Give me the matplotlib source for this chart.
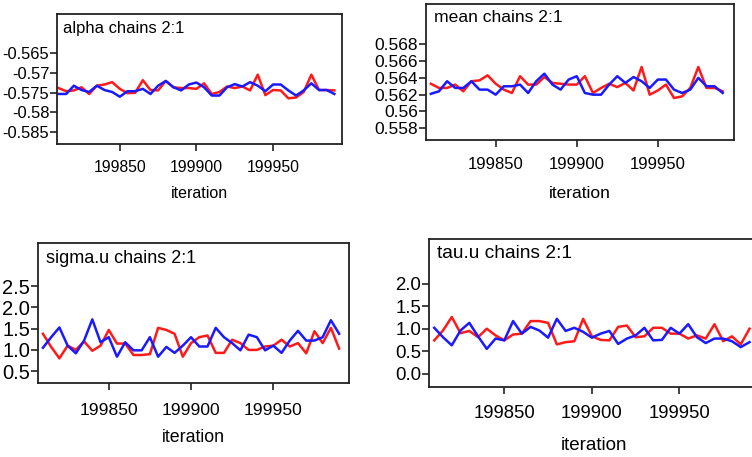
import matplotlib.pyplot as plt
import numpy as np

plt.rcParams['font.family'] = ['Liberation Sans', 'DejaVu Sans']

# thinned iterations shown in each history plot
iterations = np.arange(199810, 199991, 5)
x_ticks = [199850, 199900, 199950]

alpha_chain2 = [-0.5738, -0.5746, -0.5744, -0.5736, -0.5753, -0.5732, -0.5729, -0.5723, -0.5740,
                -0.5751, -0.5750, -0.5718, -0.5743, -0.5744, -0.5720, -0.5736, -0.5738, -0.5738,
                -0.5740, -0.5726, -0.5753, -0.5748, -0.5734, -0.5738, -0.5734, -0.5744, -0.5704,
                -0.5756, -0.5743, -0.5744, -0.5764, -0.5762, -0.5748, -0.5704, -0.5743, -0.5743,
                -0.5744]
alpha_chain1 = [-0.5753, -0.5753, -0.5732, -0.5743, -0.5748, -0.5732, -0.5743, -0.5748, -0.5760,
                -0.5746, -0.5746, -0.5740, -0.5753, -0.5732, -0.5720, -0.5736, -0.5744, -0.5729,
                -0.5724, -0.5736, -0.5757, -0.5757, -0.5736, -0.5728, -0.5734, -0.5723, -0.5732,
                -0.5746, -0.5729, -0.5729, -0.5744, -0.5757, -0.5744, -0.5726, -0.5743, -0.5743,
                -0.5753]

mean_chain2 = [0.5633, 0.5628, 0.5628, 0.5632, 0.5624, 0.5636, 0.5637, 0.5643, 0.5633, 0.5626,
               0.5622, 0.5642, 0.5632, 0.5632, 0.5641, 0.5634, 0.5633, 0.5632, 0.5632, 0.5642,
               0.5622, 0.5628, 0.5633, 0.5629, 0.5634, 0.5625, 0.5653, 0.5620, 0.5625, 0.5632,
               0.5616, 0.5618, 0.5628, 0.5653, 0.5628, 0.5628, 0.5624]
mean_chain1 = [0.5621, 0.5624, 0.5636, 0.5628, 0.5628, 0.5636, 0.5626, 0.5626, 0.5620, 0.5630,
               0.5630, 0.5632, 0.5622, 0.5636, 0.5645, 0.5632, 0.5626, 0.5638, 0.5642, 0.5622,
               0.5620, 0.5620, 0.5632, 0.5642, 0.5634, 0.5641, 0.5636, 0.5628, 0.5638, 0.5638,
               0.5626, 0.5622, 0.5626, 0.5640, 0.5630, 0.5630, 0.5622]

sigma_chain2 = [1.38, 1.07, 0.80, 1.10, 1.00, 1.20, 0.98, 1.10, 1.47, 1.15, 1.15, 0.88, 0.88,
                0.90, 1.52, 1.47, 1.38, 0.84, 1.16, 1.30, 1.34, 0.93, 0.93, 1.24, 1.16, 1.00,
                1.00, 1.08, 1.10, 1.24, 1.08, 1.16, 0.92, 1.44, 1.16, 1.52, 1.03]
sigma_chain1 = [1.05, 1.30, 1.53, 1.10, 0.92, 1.22, 1.72, 1.18, 1.30, 0.84, 1.18, 0.99, 0.99,
                1.30, 0.84, 1.07, 0.93, 1.10, 1.30, 1.08, 1.08, 1.52, 1.30, 1.16, 0.99, 1.36,
                1.30, 0.99, 1.10, 0.93, 1.22, 1.45, 1.22, 1.22, 1.30, 1.70, 1.38]

tau_chain2 = [0.74, 0.96, 1.26, 0.90, 0.95, 0.81, 1.00, 0.85, 0.74, 0.87, 0.89, 1.17, 1.17,
              1.13, 0.65, 0.70, 0.72, 1.22, 0.83, 0.75, 0.74, 1.04, 1.07, 0.81, 0.83, 1.02,
              1.02, 0.89, 0.89, 0.78, 0.85, 0.78, 1.10, 0.72, 0.83, 0.65, 1.00]
tau_chain1 = [1.02, 0.81, 0.63, 0.96, 1.13, 0.83, 0.55, 0.78, 0.74, 1.17, 0.89, 1.04, 0.96,
              0.80, 1.22, 0.95, 1.02, 0.93, 0.80, 0.89, 0.95, 0.66, 0.78, 0.85, 1.02, 0.74,
              0.75, 1.02, 0.89, 1.10, 0.81, 0.68, 0.78, 0.78, 0.72, 0.59, 0.70]

alpha_ticks = [-0.585, -0.58, -0.575, -0.57, -0.565]
alpha_labels = ['-0.585', '-0.58', '-0.575', '-0.57', '-0.565']
mean_ticks = [0.558, 0.56, 0.562, 0.564, 0.566, 0.568]
mean_labels = ['0.558', '0.56', '0.562', '0.564', '0.566', '0.568']
sigma_ticks = [0.5, 1.0, 1.5, 2.0, 2.5]
sigma_labels = ['0.5', '1.0', '1.5', '2.0', '2.5']
tau_ticks = [0.0, 0.5, 1.0, 1.5, 2.0]
tau_labels = ['0.0', '0.5', '1.0', '1.5', '2.0']

W, H = 752, 457


def history_panel(fig, box, title, chain2, chain1, yticks, ylabels, xlim, ylim,
                  fs_title, fs_y, fs_x, fs_lab, title_off, xpad, labelpad):
    # box = (left, top, right, bottom) in pixels
    l, t, r, b = box
    ax = fig.add_axes([l / W, 1 - b / H, (r - l) / W, (b - t) / H])
    # chain 2 first, chain 1 on top
    ax.plot(iterations, chain2, color='#ff1a1a', linewidth=1.8)
    ax.plot(iterations, chain1, color='#1a1aff', linewidth=1.8)
    ax.set_xlim(*xlim)
    ax.set_ylim(*ylim)
    ax.set_xticks(x_ticks)
    ax.set_xticklabels([str(v) for v in x_ticks], fontsize=fs_x)
    ax.set_yticks(yticks)
    ax.set_yticklabels(ylabels, fontsize=fs_y)
    ax.tick_params(axis='both', direction='out', length=5, width=1.2, color='#222222')
    ax.tick_params(axis='y', pad=0.5)
    ax.tick_params(axis='x', pad=xpad)
    for s in ax.spines.values():
        s.set_linewidth(1.3)
        s.set_color('#222222')
    ax.set_xlabel('iteration', fontsize=fs_lab, labelpad=labelpad)
    dx, dy = title_off
    ax.text(dx / (r - l), 1 - dy / (b - t), title, transform=ax.transAxes,
            fontsize=fs_title, ha='left', va='center')
    return ax


def main():
    fig = plt.figure(figsize=(W / 100, H / 100), dpi=100)

    history_panel(fig, (57, 14, 342, 144), 'alpha chains 2:1', alpha_chain2, alpha_chain1,
                  alpha_ticks, alpha_labels, (199809, 199995), (-0.588, -0.555),
                  11.9, 11.9, 11.3, 11.5, (6, 14), 6.5, 7.8)
    history_panel(fig, (426, 4, 734, 140), 'mean chains 2:1', mean_chain2, mean_chain1,
                  mean_ticks, mean_labels, (199807, 199997), (0.5566, 0.5728),
                  12.6, 12.5, 12.0, 12.5, (8, 13), 7.3, 9.8)
    history_panel(fig, (38, 243, 349, 383), 'sigma.u chains 2:1', sigma_chain2, sigma_chain1,
                  sigma_ticks, sigma_labels, (199807, 199996), (0.22, 3.52),
                  13.0, 14.5, 12.6, 12.8, (8, 15.5), 9.5, 8.1)
    history_panel(fig, (429, 239, 760, 387), 'tau.u chains 2:1', tau_chain2, tau_chain1,
                  tau_ticks, tau_labels, (199807, 199996), (-0.3, 3.0),
                  13.8, 13.4, 13.3, 13.5, (8, 14), 8.0, 10.6)

    fig.savefig('out.png', dpi=100)


if __name__ == '__main__':
    main()
